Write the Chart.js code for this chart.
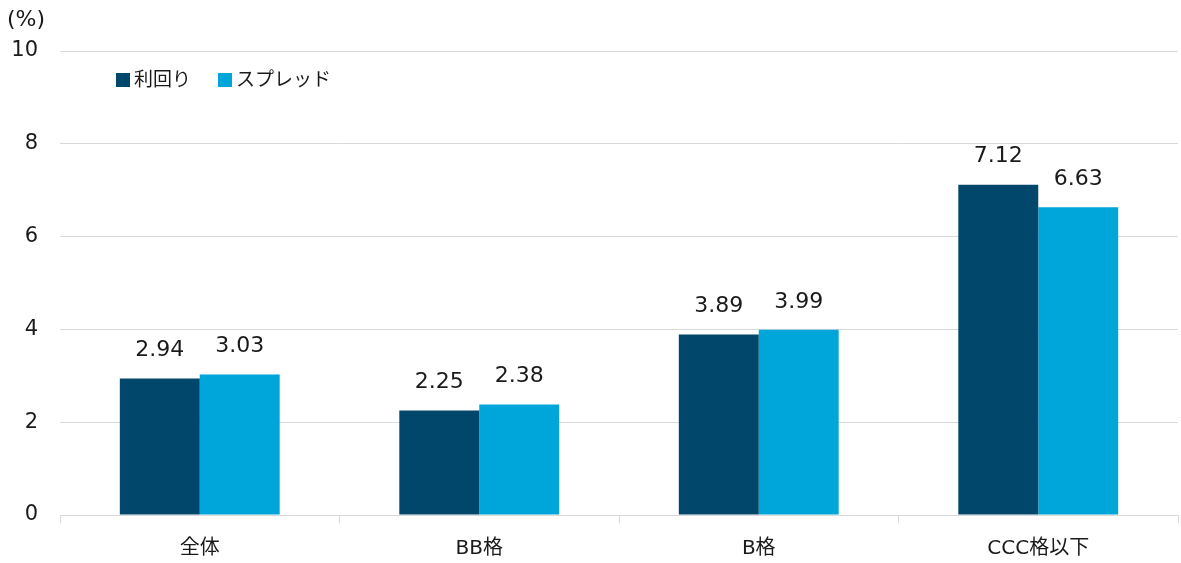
<!DOCTYPE html>
<html>
<head>
<meta charset="utf-8">
<script src="https://cdn.jsdelivr.net/npm/chart.js@4/dist/chart.umd.min.js"></script>
<style>
  html, body { margin: 0; padding: 0; background: #fff; }
  #wrap { width: 1181px; height: 563px; }
</style>
</head>
<body>
<div id="wrap"><canvas id="chart"></canvas></div>
<script>
const categories = ['全体', 'BB格', 'B格', 'CCC格以下'];
const yieldValues = [2.94, 2.25, 3.89, 7.12];
const spreadValues = [3.03, 2.38, 3.99, 6.63];
const seriesNames = ['利回り', 'スプレッド'];
const seriesColors = ['#00476B', '#00A5DA'];

const FONT = "'DejaVu Sans', 'Noto Sans CJK JP', sans-serif";

// 棒の上の数値、左上の単位、凡例を描く
const extrasPlugin = {
    id: 'extras',
    afterDatasetsDraw(chart) {
        const ctx = chart.ctx;
        ctx.save();
        ctx.fillStyle = '#1a1a1a';
        ctx.font = '22px ' + FONT;
        ctx.textAlign = 'center';
        ctx.textBaseline = 'middle';
        chart.data.datasets.forEach((ds, i) => {
            chart.getDatasetMeta(i).data.forEach((bar, j) => {
                ctx.fillText(ds.data[j].toFixed(2), bar.x, bar.y - 28);
            });
        });

        ctx.font = '22px ' + FONT;
        ctx.textAlign = 'left';
        ctx.fillText('(%)', 7, 20);

        // 凡例
        let x = 116;
        const y = 80;
        ctx.font = '19px ' + FONT;
        seriesNames.forEach((name, i) => {
            ctx.fillStyle = seriesColors[i];
            ctx.fillRect(x, y - 7, 14, 14);
            ctx.fillStyle = '#1a1a1a';
            ctx.fillText(name, x + 18, y + 1);
            x += 102;
        });
        ctx.restore();
    }
};

new Chart(document.getElementById('chart'), {
    type: 'bar',
    data: {
        labels: categories,
        datasets: [
            { label: seriesNames[0], data: yieldValues, backgroundColor: seriesColors[0], borderWidth: 0 },
            { label: seriesNames[1], data: spreadValues, backgroundColor: seriesColors[1], borderWidth: 0 }
        ]
    },
    options: {
        responsive: true,
        maintainAspectRatio: false,
        animation: false,
        layout: { padding: { top: 51, right: 3, left: 0, bottom: 0 } },
        datasets: { bar: { categoryPercentage: 0.572, barPercentage: 1.0 } },
        plugins: {
            legend: { display: false },
            tooltip: { enabled: false }
        },
        scales: {
            x: {
                afterFit(scale) { scale.height = 48; },
                grid: { offset: true, drawOnChartArea: false, color: '#d9d9d9', tickLength: 8 },
                border: { color: '#d9d9d9' },
                ticks: { color: '#1a1a1a', font: { family: FONT, size: 20 }, padding: 14 }
            },
            y: {
                min: 0,
                max: 10,
                afterFit(scale) { scale.width = 60; },
                grid: { color: '#d9d9d9', drawTicks: false },
                border: { display: false },
                ticks: { stepSize: 2, color: '#1a1a1a', font: { family: FONT, size: 21 }, padding: 22 }
            }
        }
    },
    plugins: [extrasPlugin]
});
</script>
</body>
</html>
